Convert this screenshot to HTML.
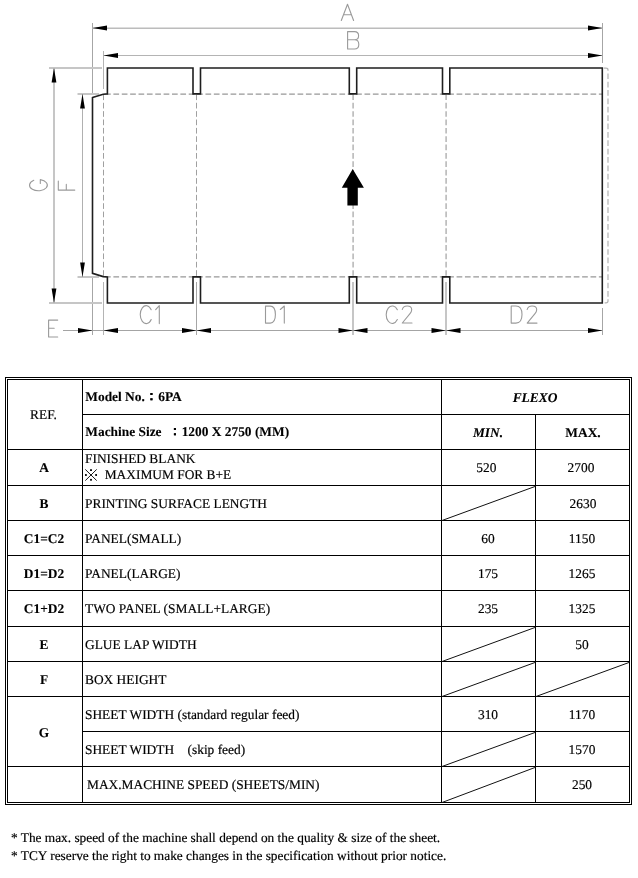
<!DOCTYPE html>
<html><head><meta charset="utf-8">
<style>
html,body{margin:0;padding:0;background:#fff;width:638px;height:878px;overflow:hidden;}
svg{position:absolute;left:0;top:0;display:block;filter:grayscale(1);}
.t{font-family:"Liberation Serif",serif;font-size:13.4px;fill:#000;stroke:#000;stroke-width:0.18px;text-rendering:geometricPrecision;}
.b{stroke-width:0.1px;}
.b{font-weight:bold;}
.i{font-style:italic;}
.m{text-anchor:middle;}
</style></head><body>
<svg width="638" height="878" viewBox="0 0 638 878">
<g id="diagram">
<g stroke="#a6a6a6" stroke-width="1" fill="none">
<line x1="92.5" y1="23" x2="92.5" y2="94"/>
<line x1="92.5" y1="277" x2="92.5" y2="335"/>
<line x1="602.5" y1="23" x2="602.5" y2="63"/>
<line x1="602.5" y1="308" x2="602.5" y2="335"/>
<line x1="196.5" y1="282" x2="196.5" y2="335"/>
</g>
<g stroke="#b4b4b4" stroke-width="1" fill="none">
<line x1="103.5" y1="51" x2="103.5" y2="89"/>
<line x1="103.5" y1="282" x2="103.5" y2="335"/>
</g>
<g stroke="#c6c6c6" stroke-width="2" fill="none">
<line x1="49" y1="68" x2="102" y2="68"/>
<line x1="49" y1="303" x2="102" y2="303"/>
<line x1="77.5" y1="94" x2="99" y2="94"/>
<line x1="77.5" y1="277" x2="99" y2="277"/>
<line x1="54" y1="68" x2="54" y2="303"/>
<line x1="353" y1="282" x2="353" y2="335"/>
<line x1="446" y1="282" x2="446" y2="335"/>
</g>
<line x1="92.5" y1="28.25" x2="602.5" y2="28.25" stroke="#bcbcbc" stroke-width="1.5"/>
<line x1="103.5" y1="55.5" x2="602.5" y2="55.5" stroke="#b4b4b4" stroke-width="1"/>
<line x1="82.5" y1="94" x2="82.5" y2="277" stroke="#b0b0b0" stroke-width="1"/>
<line x1="63" y1="330.5" x2="602.5" y2="330.5" stroke="#a4a4a4" stroke-width="1"/>
<g fill="#000">
<path d="M92.5 28 L107.00 25.60 L107.00 30.40 Z"/>
<path d="M602.5 28 L588.00 30.40 L588.00 25.60 Z"/>
<path d="M103.5 55.5 L118.00 53.10 L118.00 57.90 Z"/>
<path d="M602.5 55.5 L588.00 57.90 L588.00 53.10 Z"/>
<path d="M54 68 L56.40 82.50 L51.60 82.50 Z"/>
<path d="M54 303 L51.60 288.50 L56.40 288.50 Z"/>
<path d="M82.5 94 L84.90 108.50 L80.10 108.50 Z"/>
<path d="M82.5 277 L80.10 262.50 L84.90 262.50 Z"/>
<path d="M92.5 330.5 L78.00 332.90 L78.00 328.10 Z"/>
<path d="M103.5 330.5 L118.00 328.10 L118.00 332.90 Z"/>
<path d="M196.5 330.5 L182.00 332.90 L182.00 328.10 Z"/>
<path d="M196.5 330.5 L211.00 328.10 L211.00 332.90 Z"/>
<path d="M353 330.5 L338.50 332.90 L338.50 328.10 Z"/>
<path d="M353 330.5 L367.50 328.10 L367.50 332.90 Z"/>
<path d="M446 330.5 L431.50 332.90 L431.50 328.10 Z"/>
<path d="M446 330.5 L460.50 328.10 L460.50 332.90 Z"/>
<path d="M602.5 330.5 L588.00 332.90 L588.00 328.10 Z"/>
</g>
<g stroke="#989898" stroke-width="1.3" fill="none" stroke-dasharray="5.7 2.67">
<line x1="107.5" y1="94.2" x2="602" y2="94.2" stroke-dashoffset="2.47"/>
<line x1="107.5" y1="276.8" x2="602" y2="276.8" stroke-dashoffset="2.47"/>
</g>
<g stroke="#a0a0a0" stroke-width="1" fill="none" stroke-dasharray="5.7 2.67">
<line x1="103.5" y1="94.4" x2="103.5" y2="277"/>
<line x1="196.5" y1="94.4" x2="196.5" y2="277"/>
</g>
<g stroke="#b4b4b4" stroke-width="1.5" fill="none" stroke-dasharray="5.7 2.67">
<line x1="353.1" y1="94.4" x2="353.1" y2="277"/>
<line x1="446.1" y1="94.4" x2="446.1" y2="277"/>
</g>
<path stroke="#b2b2b2" stroke-width="1.2" fill="none" stroke-dasharray="5.7 2.67" stroke-dashoffset="-1.2" d="M602.5 68.2 L606 68.2 Q608 68.2 608 70 L608 301 Q608 302.8 606 302.8 L602.5 302.8"/>
<path stroke="#1e1e1e" stroke-width="1.6" fill="none" d="M92.5 97.5 L103.2 94.2 L107.4 93.9 L107.4 68.0 L193.0 68.0 L193.0 93.9 L200.5 93.9 L200.5 68.0 L349.3 68.0 L349.3 93.9 L356.7 93.9 L356.7 68.0 L442.5 68.0 L442.5 93.9 L449.8 93.9 L449.8 68.0 L602.3 68.0 L602.3 303.0 L449.8 303.0 L449.8 276.9 L442.5 276.9 L442.5 303.0 L356.7 303.0 L356.7 276.9 L349.3 276.9 L349.3 303.0 L200.5 303.0 L200.5 276.9 L193.0 276.9 L193.0 303.0 L107.4 303.0 L107.4 276.9 L103.2 276.6 L92.5 273.3 Z"/>
<path fill="#000" d="M352.7 169 L363.9 187.8 L357.8 187.8 L357.8 205.6 L347.4 205.6 L347.4 187.8 L341.8 187.8 Z"/>
<g stroke="#9a9a9a" stroke-width="1.1" fill="none" stroke-linecap="round" stroke-linejoin="round">
<path d="M341.3 20.5 L347.5 4.2 L353.6 20.5 M343.6 14.7 L351.5 14.7"/>
<path d="M347.6 49 L347.6 31.6 L354.5 31.6 C357.2 31.6 358.6 33.2 358.6 35.7 C358.6 38.2 357.2 39.8 354.5 39.8 L347.6 39.8 M354.5 39.8 C357.4 39.8 358.8 41.6 358.8 44.4 C358.8 47.2 357.4 49 354.5 49 L347.6 49"/>
<path d="M33.8 180.3 A8.9 5.65 0 1 0 40.3 179.6 L40.3 183.5"/>
<path d="M58.3 181 L58.3 190.1 L74.8 190.1 M66.3 184.4 L66.3 190.1"/>
<path d="M57.7 320.1 L48.6 320.1 L48.6 337 L57.7 337 M48.6 328.3 L54.2 328.3"/>
<path d="M151.19 309.70 A5.95 9.0 0 1 0 151.19 319.50"/>
<path d="M155.7 309.7 L159.3 305.6 L159.3 323.6"/>
<path d="M265.5 306.1 L265.5 323.1 L270.2 323.1 C273.5 323.1 275.4 319.6 275.4 314.6 C275.4 309.6 273.5 306.1 270.2 306.1 Z"/>
<path d="M280.3 309.5 L284.3 306.0 L284.3 323.1"/>
<path d="M397.35 309.80 A6.1 8.75 0 1 0 397.35 319.60"/>
<path d="M402.3 309.5 C402.8 307.3 404.8 306.0 407.15 306.0 C409.9 306.0 411.7 307.6 411.7 309.8 C411.7 311.3 411.0 312.4 410.0 313.6 L402.3 323.0 L412.0 323.0"/>
<path d="M511.2 306.0 L511.2 323.1 L515.9 323.1 C520.1 323.1 522.0 319.6 522.0 314.55 C522.0 309.5 520.1 306.0 515.9 306.0 Z"/>
<path d="M527.2 309.5 C527.7 307.3 529.7 306.0 532.1 306.0 C534.9 306.0 536.7 307.6 536.7 309.8 C536.7 311.3 536.0 312.4 535.0 313.6 L527.2 323.1 L537.0 323.1"/>
</g>
</g>
<g shape-rendering="crispEdges" fill="#000">
<rect x="5" y="377" width="627" height="1"/>
<rect x="5" y="804" width="627" height="1"/>
<rect x="5" y="377" width="1" height="428"/>
<rect x="631" y="377" width="1" height="428"/>
<rect x="7" y="379" width="623" height="1"/>
<rect x="7" y="802" width="623" height="1"/>
<rect x="7" y="379" width="1" height="424"/>
<rect x="629" y="379" width="1" height="424"/>
<rect x="82" y="379" width="1" height="424"/>
<rect x="441" y="379" width="1" height="424"/>
<rect x="535" y="414" width="1" height="389"/>
<rect x="82" y="414" width="548" height="1"/>
<rect x="7" y="449" width="623" height="1"/>
<rect x="7" y="485" width="623" height="1"/>
<rect x="7" y="520" width="623" height="1"/>
<rect x="7" y="555" width="623" height="1"/>
<rect x="7" y="590" width="623" height="1"/>
<rect x="7" y="626" width="623" height="1"/>
<rect x="7" y="661" width="623" height="1"/>
<rect x="7" y="696" width="623" height="1"/>
<rect x="7" y="766" width="623" height="1"/>
<rect x="82" y="731" width="548" height="1"/>
</g>
<g stroke="#111" stroke-width="1" fill="none">
<line x1="442" y1="520.5" x2="535.5" y2="486.3"/>
<line x1="442" y1="661.5" x2="535.5" y2="627.3"/>
<line x1="442" y1="696.5" x2="535.5" y2="662.3"/>
<line x1="442" y1="766.5" x2="535.5" y2="732.3"/>
<line x1="442" y1="802.5" x2="535.5" y2="767.3"/>
<line x1="536" y1="696.5" x2="629.5" y2="662.3"/>
</g>
<g stroke="#000" stroke-width="0.9"><line x1="85.3" y1="469.4" x2="96.7" y2="480.6"/><line x1="96.7" y1="469.4" x2="85.3" y2="480.6"/></g>
<g fill="#000"><rect x="90.1" y="469.2" width="1.8" height="1.8"/><rect x="90.1" y="478.9" width="1.8" height="1.8"/><rect x="85" y="474.1" width="1.8" height="1.8"/><rect x="95.2" y="474.1" width="1.8" height="1.8"/></g>
<text class="t m" x="43.5" y="419">REF.</text>
<text class="t b" x="85.3" y="401">Model No.<tspan dy="-1">：</tspan><tspan dy="1">6PA</tspan></text>
<text class="t b" x="85.3" y="436" xml:space="preserve">Machine Size  <tspan dy="-1">：</tspan><tspan dy="1">1200 X 2750 (MM)</tspan></text>
<text class="t b i m" x="535" y="402">FLEXO</text>
<text class="t b i m" x="488" y="437">MIN.</text>
<text class="t b m" x="583" y="437">MAX.</text>
<text class="t b m" x="44" y="472">A</text>
<text class="t " x="85" y="463">FINISHED BLANK</text>
<text class="t " x="104.7" y="479">MAXIMUM FOR B+E</text>
<text class="t m" x="486.3" y="472">520</text>
<text class="t m" x="581" y="472">2700</text>
<text class="t b m" x="44" y="508">B</text>
<text class="t " x="85" y="508">PRINTING SURFACE LENGTH</text>
<text class="t m" x="583" y="508">2630</text>
<text class="t b m" x="44" y="543">C1=C2</text>
<text class="t " x="85" y="543">PANEL(SMALL)</text>
<text class="t m" x="488" y="543">60</text>
<text class="t m" x="582" y="543">1150</text>
<text class="t b m" x="44" y="578">D1=D2</text>
<text class="t " x="85" y="578">PANEL(LARGE)</text>
<text class="t m" x="488" y="578">175</text>
<text class="t m" x="582" y="578">1265</text>
<text class="t b m" x="44" y="613">C1+D2</text>
<text class="t " x="85" y="613">TWO PANEL (SMALL+LARGE)</text>
<text class="t m" x="488" y="613">235</text>
<text class="t m" x="582" y="613">1325</text>
<text class="t b m" x="44" y="649">E</text>
<text class="t " x="85" y="649">GLUE LAP WIDTH</text>
<text class="t m" x="582" y="649">50</text>
<text class="t b m" x="44" y="684">F</text>
<text class="t " x="85" y="684">BOX HEIGHT</text>
<text class="t b m" x="44" y="737">G</text>
<text class="t " x="85" y="719">SHEET WIDTH (standard regular feed)</text>
<text class="t m" x="488" y="719">310</text>
<text class="t m" x="582" y="719">1170</text>
<text class="t " x="85" y="754" xml:space="preserve">SHEET WIDTH    (skip feed)</text>
<text class="t m" x="582" y="754">1570</text>
<text class="t " x="87" y="789">MAX.MACHINE SPEED (SHEETS/MIN)</text>
<text class="t m" x="582" y="789">250</text>
<text class="t " x="11" y="842" style="font-size:13.33px">* The max. speed of the machine shall depend on the quality &amp; size of the sheet.</text>
<text class="t " x="11" y="860" style="font-size:13.33px">* TCY reserve the right to make changes in the specification without prior notice.</text>
</svg>
</body></html>
